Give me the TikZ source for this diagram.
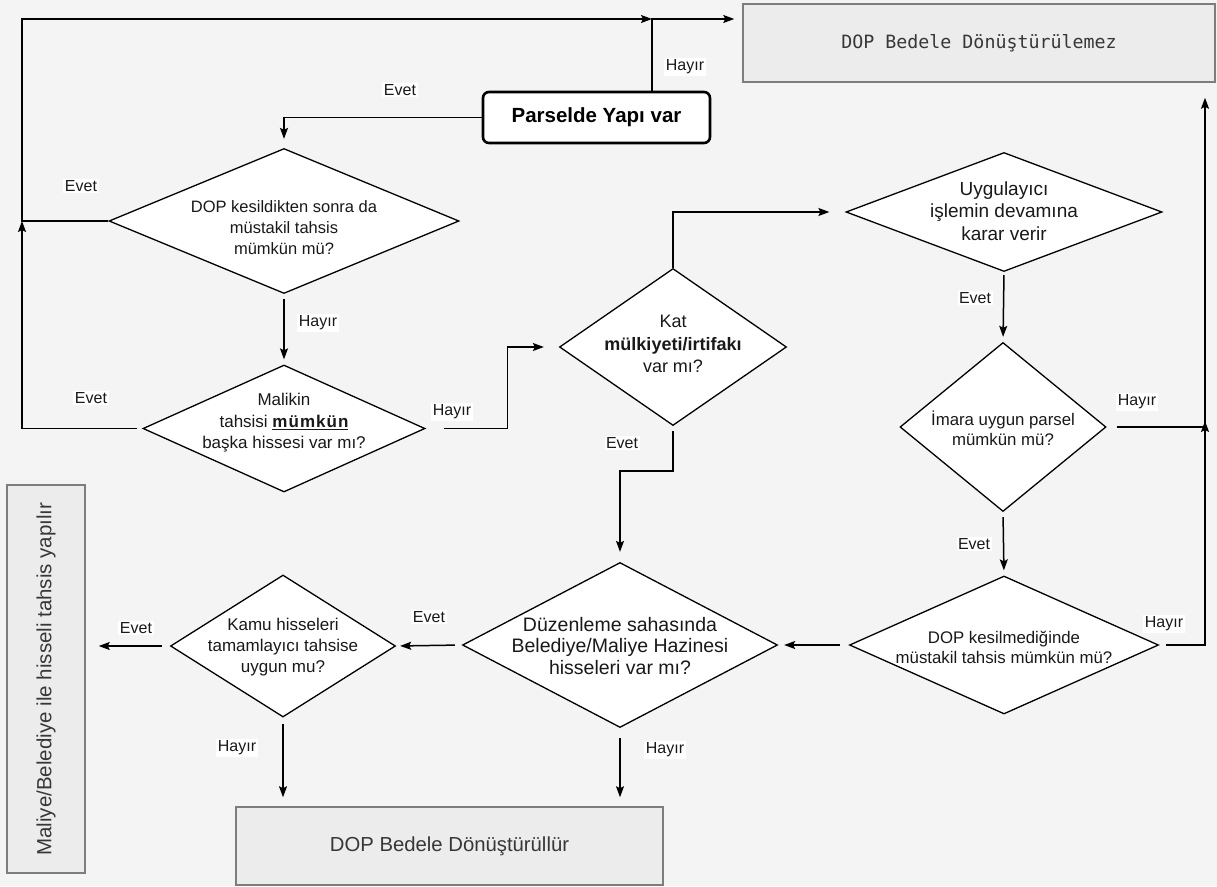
\documentclass[tikz,border=0pt]{standalone}
\usepackage{fontspec}
\setmainfont{Liberation Sans}
\newfontfamily\monof{DejaVu Sans Mono}
\usetikzlibrary{shapes.geometric,arrows.meta}
\definecolor{bg}{RGB}{243,244,243}
\definecolor{boxfill}{RGB}{236,236,236}
\definecolor{boxline}{RGB}{125,125,125}
\definecolor{txt}{RGB}{25,25,25}
\definecolor{gtxt}{RGB}{55,55,55}
\newcommand{\fs}[2]{\fontsize{#1}{#2}\selectfont}
\begin{document}
\begin{tikzpicture}[x=1pt,y=-1pt,
  dia/.style={shape=diamond, draw=black, fill=white, line width=1.3pt, inner sep=0pt},
  dtxt/.style={align=center, inner sep=0pt, text=txt},
  gbox/.style={draw=boxline, fill=boxfill, line width=1.5pt, inner sep=0pt},
  pbox/.style={draw=black, fill=white, line width=2.6pt, rounded corners=6pt, inner sep=0pt, font=\bfseries\fs{20.5}{24}},
  lab/.style={fill=white, inner sep=1.5pt, font=\fs{16}{19}, text=txt},
  arr/.style={-{Stealth[length=11pt,width=8pt,inset=2pt]}, line width=1.5pt}]

\fill[bg] (0,0) rectangle (1217,886);
\useasboundingbox (0,0) rectangle (1217,886);

% boxes
\node[gbox, minimum width=472pt, minimum height=78pt, font=\monof\fs{18.3}{22}, text=gtxt] (top) at (979,43) {DOP Bedele Dönüştürülemez};
\node[pbox, minimum width=227pt, minimum height=51pt] (parsel) at (596.5,117.5) {Parselde Yapı var};
\node[gbox, minimum width=427pt, minimum height=78pt, font=\fs{20.3}{24}, text=gtxt] (bot) at (449.5,846) {DOP Bedele Dönüştürüllür};
\node[gbox, minimum width=78pt, minimum height=388pt] (lb) at (46,679) {};
\node[rotate=90, font=\fs{20.5}{24}, text=gtxt, inner sep=0pt] (lbt) at (lb.center) {Maliye/Belediye ile hisseli tahsis yapılır};

% diamonds
\node[dia, minimum width=350pt, minimum height=145pt] (d1) at (284,221) {};
\node[dia, minimum width=282pt, minimum height=127pt] (d2) at (284,428.5) {};
\node[dia, minimum width=227pt, minimum height=157pt] (d3) at (673,347) {};
\node[dia, minimum width=316pt, minimum height=119pt] (d4) at (1004,212) {};
\node[dia, minimum width=206pt, minimum height=169pt] (d5) at (1003,427) {};
\node[dia, minimum width=309pt, minimum height=138pt] (d6) at (1004,645) {};
\node[dia, minimum width=315pt, minimum height=165pt] (d7) at (620,645) {};
\node[dia, minimum width=225pt, minimum height=142pt] (d8) at (283,646) {};

% diamond texts
\node[dtxt, font=\fs{16.5}{21}] (d1t) at (284,228) {DOP kesildikten sonra da\\müstakil tahsis\\mümkün mü?};
\node[dtxt, font=\fs{17}{21.5}] (d2t) at (284,423) {Malikin\\tahsisi \underline{\bfseries\addfontfeatures{LetterSpace=6}mümkün}\\başka hissesi var mı?};
\node[dtxt, font=\fs{18}{22.5}] (d3t) at (673,344) {Kat\\\textbf{mülkiyeti/irtifakı}\\var mı?};
\node[dtxt, font=\fs{19}{22.5}] (d4t) at (1004,211) {Uygulayıcı\\işlemin devamına\\karar verir};
\node[dtxt, font=\fs{16.8}{20}] (d5t) at (1003,428) {İmara uygun parsel\\mümkün mü?};
\node[dtxt, font=\fs{16.8}{20}] (d6t) at (1004,647) {DOP kesilmediğinde\\müstakil tahsis mümkün mü?};
\node[dtxt, font=\fs{19.5}{21.5}] (d7t) at (620,646) {Düzenleme sahasında\\Belediye/Maliye Hazinesi\\hisseleri var mı?};
\node[dtxt, font=\fs{17}{21}] (d8t) at (283,647) {Kamu hisseleri\\tamamlayıcı tahsise\\uygun mu?};

% junction coordinates
\coordinate (jL) at (22,221);
\coordinate (jT) at (652,19);
\coordinate (jR) at (1205,427);

% connectors
\draw[arr, shorten <=5pt] (d2.west) -| (jL);
\draw[arr] (d1.west) -- (jL) |- (jT);
\draw[arr, shorten >=8pt] (parsel.north -| jT) -- (jT) -- (jT -| top.west);
\draw[arr, shorten >=9pt] (parsel.west) -| (d1.north);
\draw[arr, shorten <=5pt, shorten >=5pt] (d1.south) -- (d2.north);
\draw[arr, shorten <=18pt, shorten >=15pt] (d2.east) -- ++(82,0) |- (d3.west);
\draw[arr, shorten >=16pt] (d3.north) |- (d4.west);
\draw[arr, shorten <=3pt, shorten >=5pt] (d4.south) -- (d5.north);
\draw[arr, shorten <=10pt] (d5.east) -- (jR) -- ([yshift=6pt]jR);
\draw[arr, shorten <=7pt, shorten >=15pt] (d6.east) -- (d6.east -| jR) -- (top.south -| jR);
\draw[arr, shorten <=5pt, shorten >=5pt] (d5.south) -- (d6.north);
\draw[arr, shorten <=9pt, shorten >=6pt] (d6.west) -- (d7.east);
\draw[arr, shorten <=5pt, shorten >=10pt] (d3.south) -- ++(0,45) -| (d7.north);
\draw[arr, shorten <=7pt, shorten >=4pt] (d7.west) -- (d8.east);
\draw[arr, shorten <=10pt, shorten >=9pt] (d7.south) -- (d7.south |- bot.north);
\draw[arr, shorten <=6pt, shorten >=9pt] (d8.south) -- (d8.south |- bot.north);
\draw[arr, shorten <=8pt, shorten >=13pt] (d8.west) -- (d8.west -| lb.east);

% labels
\node[lab] (l1) at (685,67) {Hayır};
\node[lab] (l2) at (400,90) {Evet};
\node[lab] (l3) at (81,186) {Evet};
\node[lab] (l4) at (318,323) {Hayır};
\node[lab] (l5) at (91,398) {Evet};
\node[lab] (l6) at (452,412) {Hayır};
\node[lab] (l7) at (622,443) {Evet};
\node[lab] (l8) at (975,298) {Evet};
\node[lab] (l9) at (1137,402) {Hayır};
\node[lab] (l10) at (974,544) {Evet};
\node[lab] (l11) at (1164,624) {Hayır};
\node[lab] (l12) at (429,617) {Evet};
\node[lab] (l13) at (136,628) {Evet};
\node[lab] (l14) at (237,748) {Hayır};
\node[lab] (l15) at (665,750) {Hayır};
\end{tikzpicture}
\end{document}
